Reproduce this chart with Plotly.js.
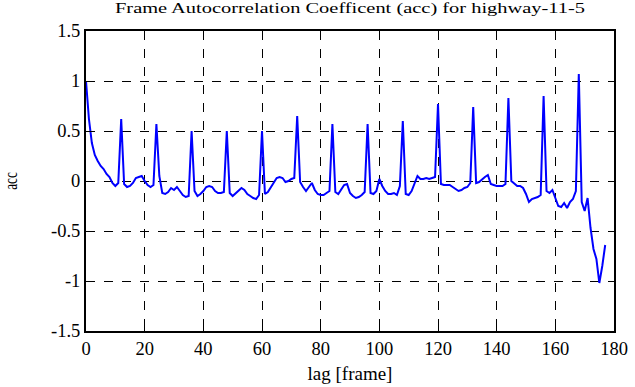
<!DOCTYPE html>
<html><head><meta charset="utf-8">
<script src="https://cdn.plot.ly/plotly-3.0.1.min.js"></script>
<style>html,body{margin:0;padding:0;background:#fff;}#chart{width:635px;height:387px;}</style>
</head><body><div id="chart"></div>
<script>
const chartTitle = "Frame Autocorrelation Coefficent (acc) for highway-11-5";
const xLabel = "lag [frame]";
const yLabel = "acc";
const xTicks = [0, 20, 40, 60, 80, 100, 120, 140, 160, 180];
const yTicks = [-1.5, -1, -0.5, 0, 0.5, 1, 1.5];
const yTickText = ["-1.5", "-1", "-0.5", "0", "0.5", "1", "1.5"];
const acc = [
  1.00, 0.62, 0.38, 0.26, 0.20, 0.15, 0.12, 0.07, 0.04, -0.02,
  -0.05, -0.02, 0.62, -0.03, -0.06, -0.05, -0.02, 0.03, 0.04, 0.05,
  0.00, -0.04, -0.06, -0.04, 0.57, 0.05, -0.12, -0.13, -0.11, -0.07,
  -0.09, -0.06, -0.10, -0.14, -0.16, -0.15, 0.50, -0.10, -0.15, -0.13,
  -0.10, -0.06, -0.05, -0.06, -0.10, -0.12, -0.12, -0.11, 0.50, -0.12,
  -0.15, -0.12, -0.09, -0.07, -0.09, -0.13, -0.15, -0.17, -0.18, -0.14,
  0.50, -0.13, -0.11, -0.06, -0.01, 0.03, 0.04, 0.03, -0.01, 0.00,
  0.02, 0.03, 0.65, -0.01, -0.06, -0.10, -0.06, -0.02, -0.09, -0.13,
  -0.14, -0.14, -0.12, -0.10, 0.57, -0.11, -0.13, -0.09, -0.04, -0.03,
  -0.12, -0.15, -0.17, -0.16, -0.14, -0.11, 0.57, -0.12, -0.13, -0.10,
  0.02, -0.05, -0.10, -0.13, -0.13, -0.12, -0.14, -0.05, 0.60, -0.13,
  -0.14, -0.10, -0.03, 0.05, 0.02, 0.02, 0.03, 0.02, 0.03, 0.04,
  0.77, -0.03, -0.04, -0.04, -0.04, -0.06, -0.08, -0.10, -0.09, -0.07,
  -0.06, -0.02, 0.74, -0.02, -0.01, 0.02, 0.04, 0.06, -0.03, -0.04,
  -0.05, -0.05, -0.05, -0.03, 0.83, 0.00, -0.03, -0.05, -0.05, -0.07,
  -0.13, -0.21, -0.18, -0.17, -0.16, -0.14, 0.85, -0.10, -0.12, -0.09,
  -0.18, -0.25, -0.26, -0.22, -0.27, -0.21, -0.18, -0.10, 1.07, -0.21,
  -0.30, -0.17, -0.47, -0.68, -0.78, -1.02, -0.85, -0.64
];
const lags = acc.map((_, i) => i);

const FAM = "'Times New Roman', 'Liberation Serif', serif";
function f(size) { return {family: FAM, color: "#000", size: size}; }
function axisCommon() {
  return {
    showline: true, mirror: "ticks", linecolor: "#000", linewidth: 2,
    ticks: "inside", ticklen: 6, tickwidth: 1, tickcolor: "#000",
    showgrid: true, gridcolor: "#000", griddash: "dash", gridwidth: 1,
    zeroline: false, tickfont: f(18.5)
  };
}
Plotly.newPlot("chart", [{
  x: lags, y: acc, type: "scatter", mode: "lines",
  line: {color: "#0000ff", width: 2}
}], {
  width: 635, height: 387,
  margin: {l: 86, r: 21, t: 31, b: 56},
  paper_bgcolor: "#fff", plot_bgcolor: "#fff",
  font: f(18),
  showlegend: false,
  title: {text: chartTitle, font: f(14),
          xref: "paper", x: 0.5, xanchor: "center", yref: "container", y: 0.978, yanchor: "middle"},
  xaxis: Object.assign(axisCommon(), {
    range: [0, 180], tickvals: xTicks, ticktext: xTicks.map(String),
    title: {text: xLabel, font: f(19), standoff: 8}
  }),
  yaxis: Object.assign(axisCommon(), {
    range: [-1.5, 1.5], tickvals: yTicks, ticktext: yTickText,
    title: {text: yLabel, font: f(19), standoff: 28}
  })
}, {staticPlot: true}).then(function (gd) {
  // the reference title is drawn in a wide face: stretch it horizontally about its centre
  const t = gd.querySelector(".gtitle");
  if (t) {
    const cx = parseFloat(t.getAttribute("x"));
    t.setAttribute("transform", "translate(" + cx + ",0) scale(1.46,1) translate(" + (-cx) + ",0)");
  }
  // the reference y title is condensed along its reading direction
  const yt = gd.querySelector(".ytitle");
  if (yt) {
    const x = parseFloat(yt.getAttribute("x")), y = parseFloat(yt.getAttribute("y"));
    const base = yt.getAttribute("transform") || "";
    yt.setAttribute("transform", base + " translate(" + x + "," + y + ") scale(0.7,1) translate(" + (-x) + "," + (-y) + ")");
  }
});
</script></body></html>
